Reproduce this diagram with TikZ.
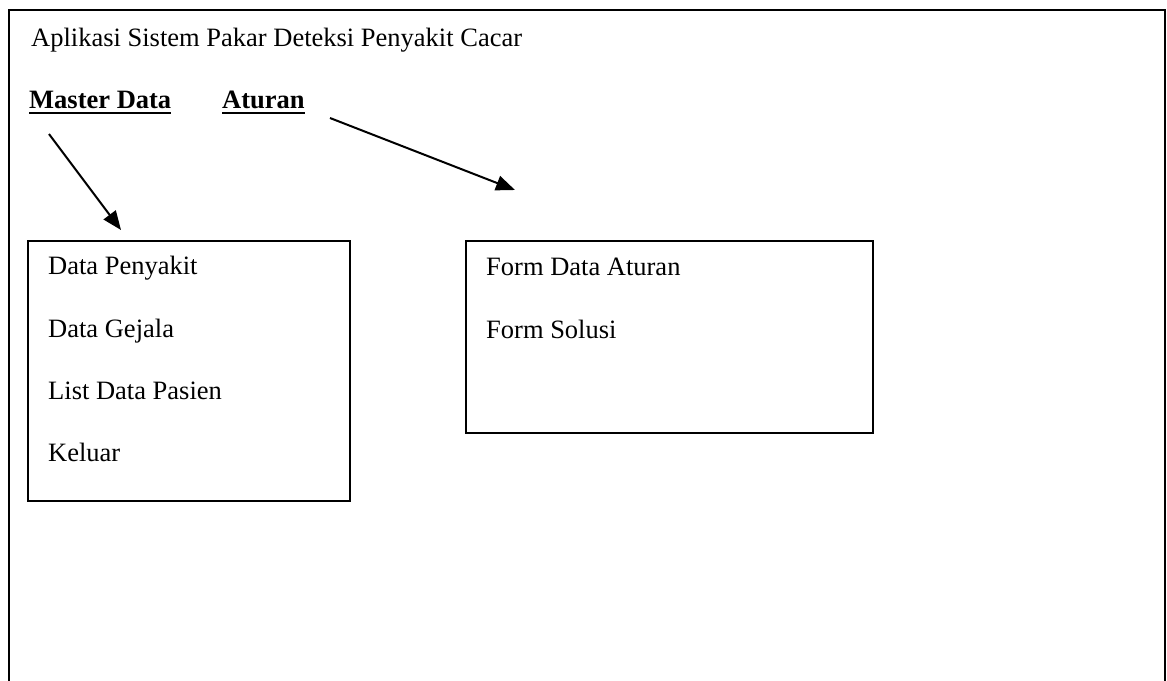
\documentclass[tikz,border=0pt]{standalone}
\usepackage{fontspec}
\setmainfont{Liberation Serif}
\usetikzlibrary{arrows.meta}
\begin{document}
\begin{tikzpicture}[x=1pt,y=-1pt,
  txt/.style={anchor=base west,inner sep=0pt,font=\fontsize{26.5}{30}\selectfont},
  hdr/.style={txt,font=\fontsize{26.5}{30}\selectfont\bfseries},
  box/.style={draw,line width=1.6pt},
  arr/.style={line width=2pt,-{Triangle[length=19pt,width=15pt]}},
  uline/.style={line width=2.6pt}]
\useasboundingbox (0,0) rectangle (1167,680);
% outer frame
\draw[line width=2pt] (9,690) -- (9,10) -- (1165,10) -- (1165,690);
% title
\node[txt] (title) at (31,46) {Aplikasi Sistem Pakar Deteksi Penyakit Cacar};
% headers
\node[hdr] (md) at (29,108) {Master Data};
\node[hdr] (at) at (222,108) {Aturan};
\draw[uline] ([yshift=-4.8pt]md.base west) -- ([yshift=-4.8pt]md.base east);
\draw[uline] ([yshift=-4.8pt]at.base west) -- ([yshift=-4.8pt]at.base east);
% boxes
\node[box,minimum width=322pt,minimum height=260pt,anchor=north west,inner sep=0pt] (lbox) at (27,240) {};
\node[box,minimum width=407pt,minimum height=192pt,anchor=north west,inner sep=0pt] (rbox) at (465,240) {};
% left menu items
\node[txt] (l1) at (48,274) {Data Penyakit};
\node[txt] (l2) at (48,337) {Data Gejala};
\node[txt] (l3) at (48,399) {List Data Pasien};
\node[txt] (l4) at (48,461) {Keluar};
% right menu items
\node[txt] (r1) at (486,275) {Form Data Aturan};
\node[txt] (r2) at (486,338) {Form Solusi};
% arrows
\coordinate (a1s) at (49,134);
\coordinate (a1e) at (121,230);
\coordinate (a2s) at (330,118);
\coordinate (a2e) at (515,190);
\draw[arr] (a1s) -- (a1e);
\draw[arr] (a2s) -- (a2e);
\end{tikzpicture}
\end{document}
